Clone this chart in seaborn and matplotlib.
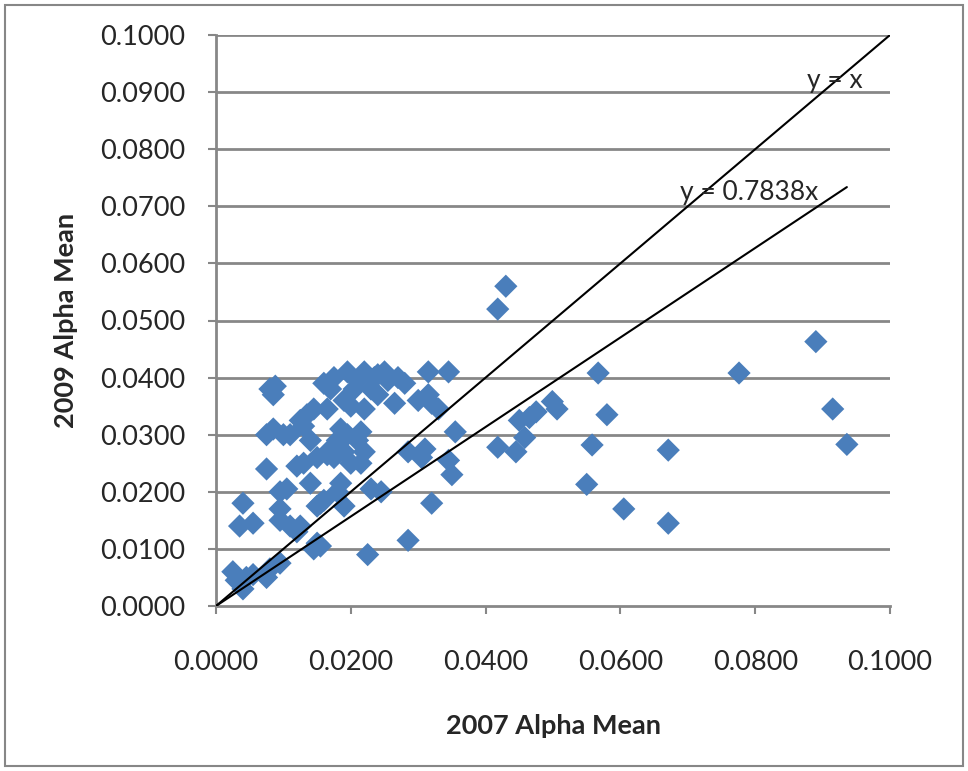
import matplotlib
matplotlib.use("Agg")
import matplotlib.pyplot as plt
import seaborn as sns
import numpy as np
import pandas as pd
from matplotlib.patches import Rectangle

x2007 = [0.0025, 0.0030, 0.0040, 0.0045, 0.0055, 0.0075, 0.0080, 0.0095, 0.0035, 0.0040,
         0.0055, 0.0075, 0.0075, 0.0085, 0.0080, 0.0088, 0.0085, 0.0095, 0.0095, 0.0095,
         0.0105, 0.0100, 0.0110, 0.0110, 0.0120, 0.0125, 0.0120, 0.0130, 0.0125, 0.0135,
         0.0130, 0.0140, 0.0140, 0.0145, 0.0145, 0.0150, 0.0155, 0.0150, 0.0150, 0.0155,
         0.0160, 0.0160, 0.0165, 0.0165, 0.0170, 0.0175, 0.0170, 0.0175, 0.0180, 0.0185,
         0.0180, 0.0185, 0.0190, 0.0190, 0.0190, 0.0195, 0.0195, 0.0200, 0.0200, 0.0205,
         0.0210, 0.0210, 0.0215, 0.0215, 0.0220, 0.0220, 0.0220, 0.0225, 0.0230, 0.0230,
         0.0235, 0.0240, 0.0240, 0.0245, 0.0250, 0.0255, 0.0265, 0.0270, 0.0280, 0.0285,
         0.0285, 0.0300, 0.0305, 0.0310, 0.0315, 0.0315, 0.0320, 0.0320, 0.0330, 0.0345,
         0.0345, 0.0350, 0.0355, 0.0418, 0.0430, 0.0418, 0.0445, 0.0450, 0.0458, 0.0465,
         0.0475, 0.0499, 0.0506, 0.0550, 0.0558, 0.0567, 0.0580, 0.0605, 0.0671, 0.0671,
         0.0776, 0.0890, 0.0915, 0.0936]
y2009 = [0.0060, 0.0045, 0.0030, 0.0050, 0.0055, 0.0050, 0.0065, 0.0075, 0.0140, 0.0180,
         0.0145, 0.0240, 0.0300, 0.0310, 0.0380, 0.0385, 0.0370, 0.0200, 0.0170, 0.0150,
         0.0205, 0.0300, 0.0300, 0.0140, 0.0130, 0.0140, 0.0245, 0.0250, 0.0325, 0.0335,
         0.0315, 0.0290, 0.0215, 0.0345, 0.0100, 0.0110, 0.0105, 0.0260, 0.0175, 0.0180,
         0.0185, 0.0390, 0.0345, 0.0265, 0.0380, 0.0400, 0.0275, 0.0260, 0.0200, 0.0215,
         0.0290, 0.0310, 0.0175, 0.0360, 0.0270, 0.0410, 0.0300, 0.0250, 0.0350, 0.0380,
         0.0290, 0.0395, 0.0305, 0.0250, 0.0345, 0.0410, 0.0270, 0.0090, 0.0205, 0.0380,
         0.0400, 0.0370, 0.0405, 0.0200, 0.0410, 0.0395, 0.0355, 0.0400, 0.0390, 0.0270,
         0.0115, 0.0360, 0.0260, 0.0275, 0.0410, 0.0370, 0.0180, 0.0355, 0.0345, 0.0255,
         0.0410, 0.0230, 0.0305, 0.0520, 0.0560, 0.0278, 0.0270, 0.0325, 0.0295, 0.0330,
         0.0340, 0.0358, 0.0345, 0.0213, 0.0282, 0.0408, 0.0335, 0.0170, 0.0273, 0.0145,
         0.0408, 0.0463, 0.0345, 0.0283]

trend_slope = 0.7838
tick_values = [0.0, 0.01, 0.02, 0.03, 0.04, 0.05, 0.06, 0.07, 0.08, 0.09, 0.10]
x_tick_values = [0.0, 0.02, 0.04, 0.06, 0.08, 0.10]

df = pd.DataFrame({"x": x2007, "y": y2009})

sns.set_style("white")
plt.rcParams["font.family"] = ["Lato", "DejaVu Sans"]

fig = plt.figure(figsize=(9.68, 7.71), dpi=100)
ax = fig.add_axes([216/968, 1-606/771, (890-216)/968, (606-35)/771])

gray = "#878787"
for yv in tick_values[1:]:
    ax.axhline(yv, color=gray, lw=2, zorder=0)

sns.scatterplot(data=df, x="x", y="y", marker="D", s=140, color="#4A7EBB",
                edgecolor="none", ax=ax, zorder=3, legend=False)

lx = np.array([0.0, 0.10])
ax.plot(lx, lx, color="black", lw=1.5, zorder=4)
tx = np.array([0.0, max(x2007)])
ax.plot(tx, trend_slope * tx, color="black", lw=1.5, zorder=4)

ax.text(0.0918, 0.0921, "y = x", fontsize=19, ha="center", va="center", zorder=5)
ax.text(0.0791, 0.0725, "y = 0.7838x", fontsize=19, ha="center", va="center", zorder=5)

ax.set_xlim(0, 0.1)
ax.set_ylim(0, 0.1)
ax.set_xticks(x_tick_values)
ax.set_yticks(tick_values)
ax.set_xticklabels([f"{v:.4f}" for v in x_tick_values])
ax.set_yticklabels([f"{v:.4f}" for v in tick_values])
ax.tick_params(axis="x", length=6, width=1.5, color=gray, pad=26, labelsize=19.5, direction="out", bottom=True)
ax.tick_params(axis="y", length=6, width=1.5, color=gray, pad=16, labelsize=19.5, direction="out", left=True)

for s in ["top", "right"]:
    ax.spines[s].set_visible(False)
for s in ["left", "bottom"]:
    ax.spines[s].set_color(gray)
    ax.spines[s].set_linewidth(2)

ax.set_xlabel("2007 Alpha Mean", fontsize=19.5, fontweight="bold", labelpad=28)
ax.set_ylabel("2009 Alpha Mean", fontsize=19.5, fontweight="bold", labelpad=16)

fig.patches.append(Rectangle((5/968, 5/771), 958/968, 761/771, transform=fig.transFigure,
                             fill=False, edgecolor=gray, lw=1.5))

fig.savefig("out.png", dpi=100)
